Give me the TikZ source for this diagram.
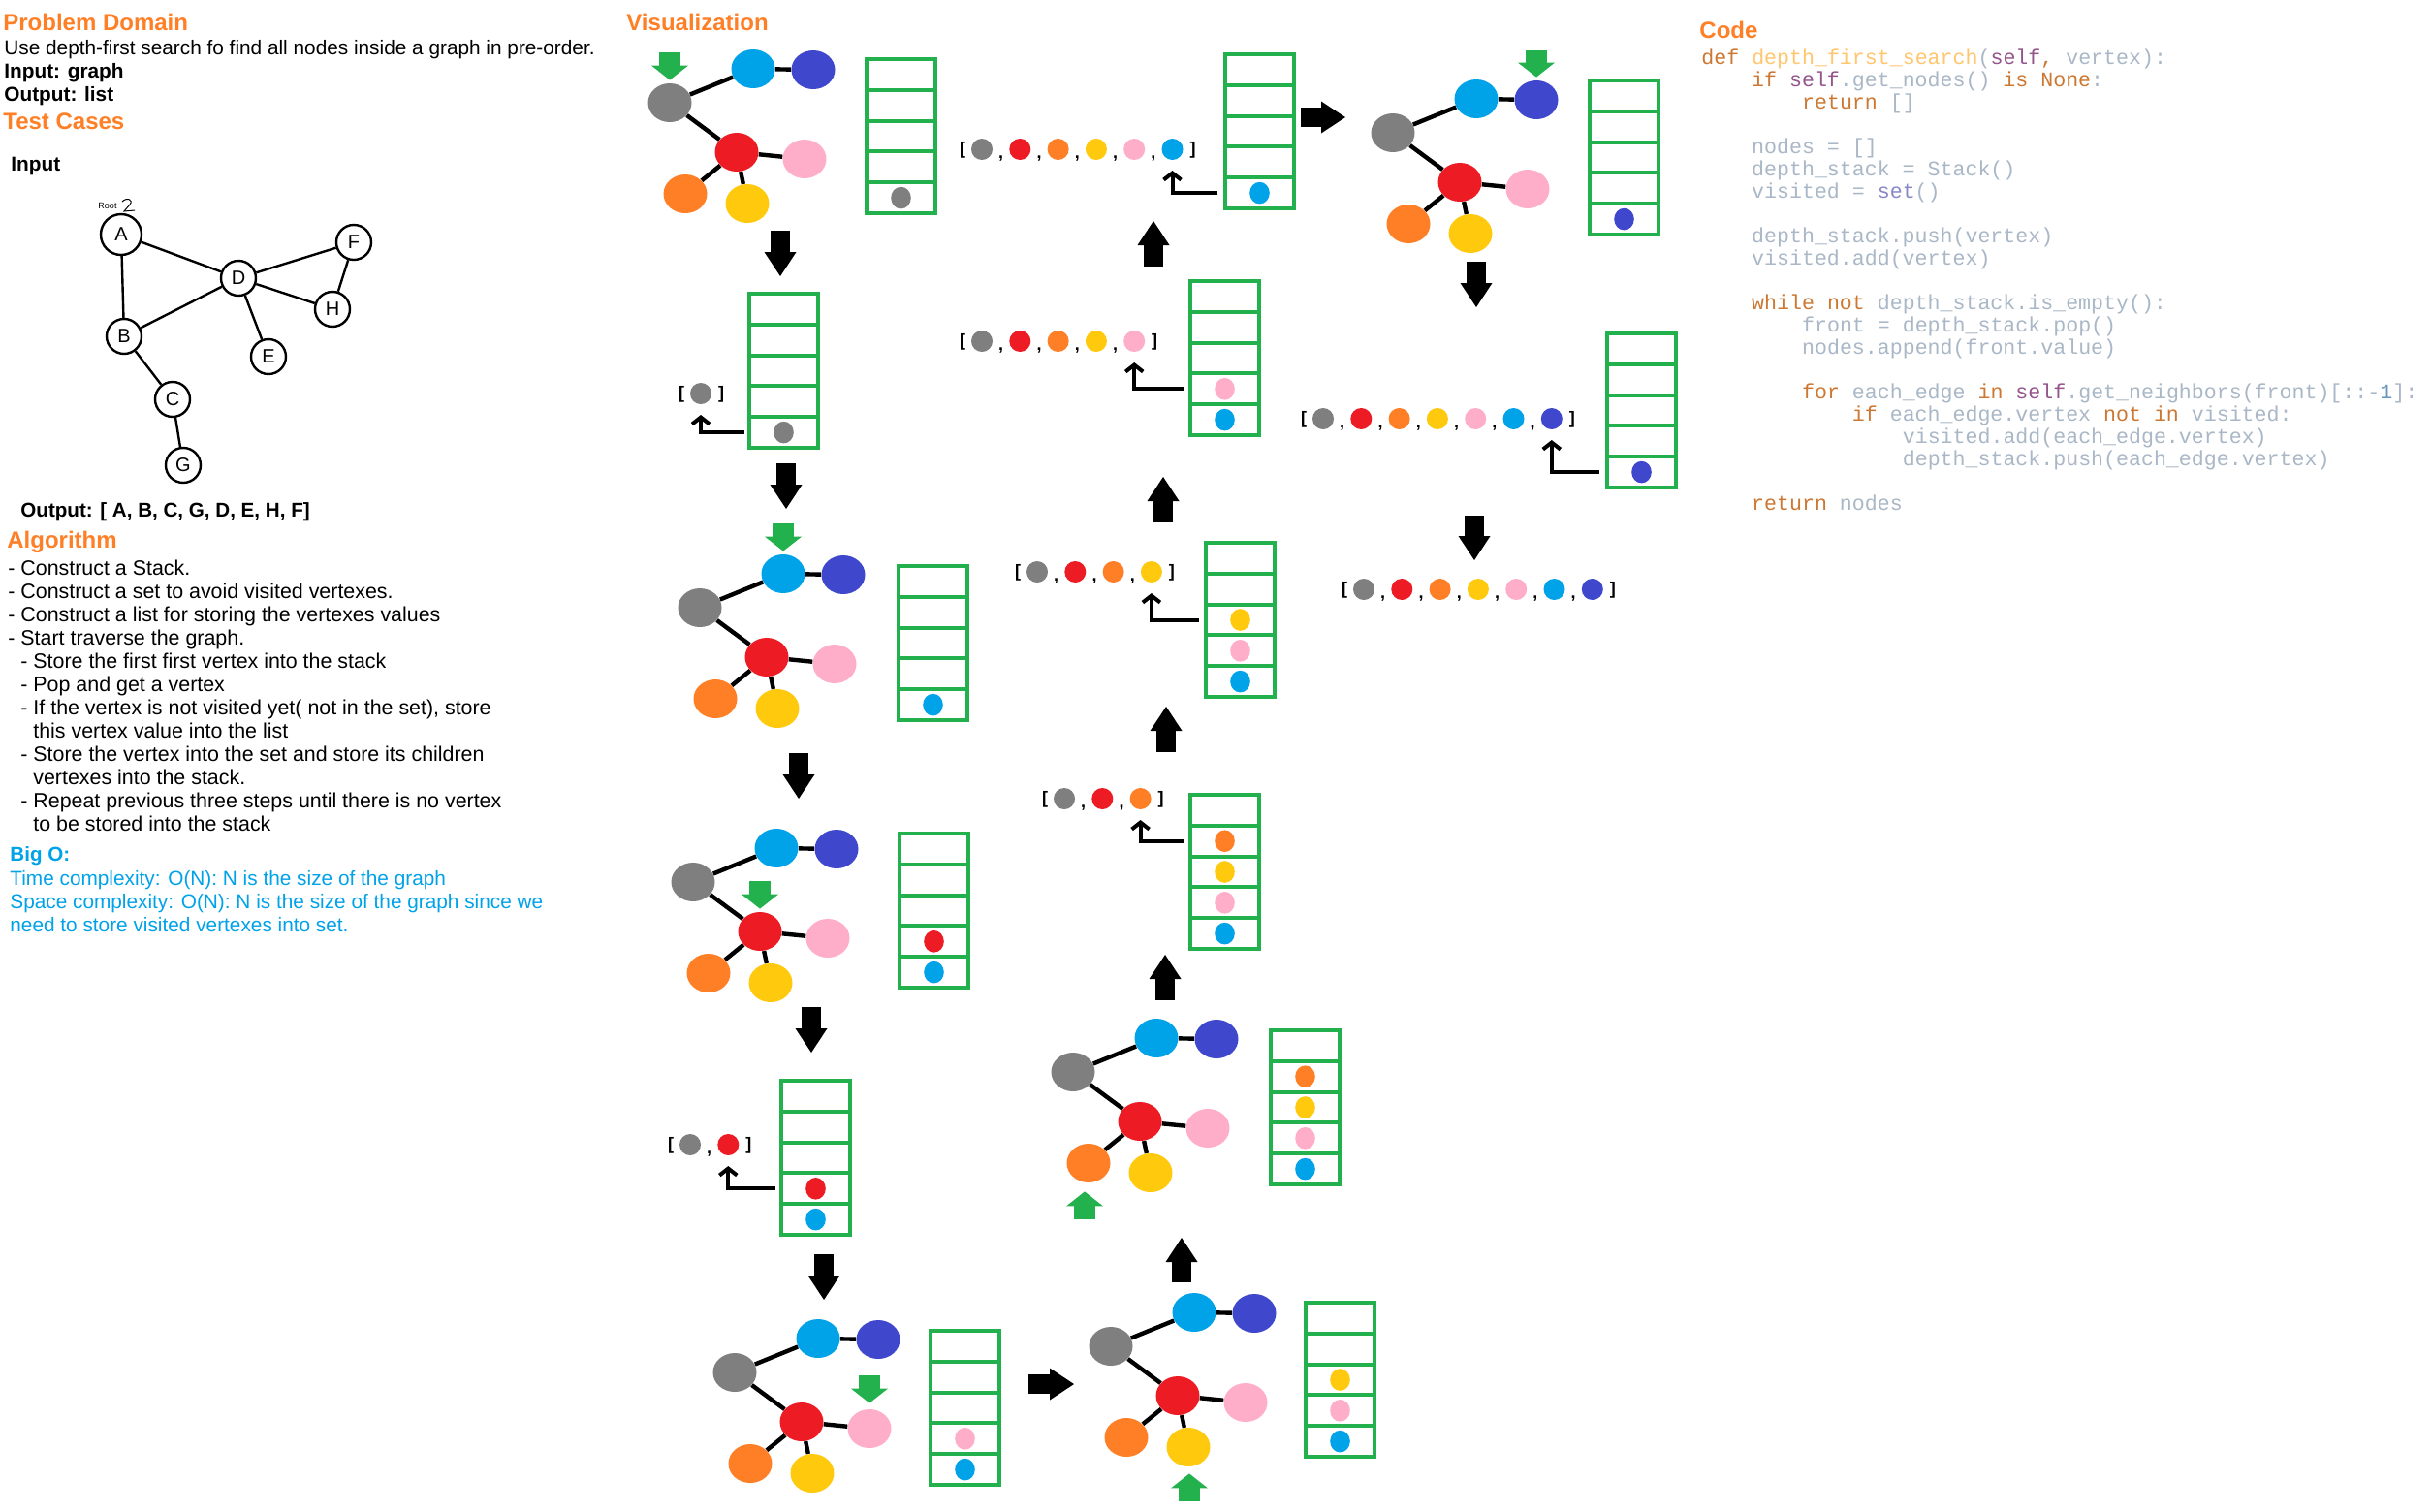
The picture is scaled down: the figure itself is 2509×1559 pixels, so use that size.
\documentclass[tikz,border=0pt]{standalone}
\usepackage{fontspec}
\setmainfont{Liberation Sans}
\newfontfamily\lsans{Liberation Sans}
\newfontfamily\codefont{Liberation Mono}
\usetikzlibrary{shapes.geometric,arrows.meta,calc}
\definecolor{cgray}{HTML}{7F7F7F}
\definecolor{ccyan}{HTML}{00A2E8}
\definecolor{cindigo}{HTML}{3F48CC}
\definecolor{cred}{HTML}{ED1C24}
\definecolor{cpink}{HTML}{FFAEC9}
\definecolor{corange}{HTML}{FF7F27}
\definecolor{cyellow}{HTML}{FFC90E}
\definecolor{cgreen}{HTML}{22B14C}
\definecolor{headc}{HTML}{FF7F27}
\definecolor{bluetxt}{HTML}{00A2E8}
\definecolor{ckw}{HTML}{CC7832}
\definecolor{cfn}{HTML}{FFC66D}
\definecolor{cself}{HTML}{94558D}
\definecolor{cdef}{HTML}{A9B7C6}
\definecolor{cset}{HTML}{8888C6}
\definecolor{cnum}{HTML}{6897BB}
\newcommand\Kw[1]{\textcolor{ckw}{#1}}
\newcommand\Fn[1]{\textcolor{cfn}{#1}}
\newcommand\Slf[1]{\textcolor{cself}{#1}}
\newcommand\Setc[1]{\textcolor{cset}{#1}}
\newcommand\Num[1]{\textcolor{cnum}{#1}}
% graph icon: name, x, y of the gray node
\newcommand\gicon[3]{%
  \node[gn,fill=cgray] (#1g) at (#2,#3) {};
  \node[gn,fill=ccyan] (#1c) at ({#2+86},{#3-35}) {};
  \node[gn,fill=cindigo] (#1i) at ({#2+148},{#3-34}) {};
  \node[gn,fill=cred] (#1r) at ({#2+69},{#3+51}) {};
  \node[gn,fill=cpink] (#1p) at ({#2+139},{#3+58}) {};
  \node[gn,fill=corange] (#1o) at ({#2+16},{#3+94}) {};
  \node[gn,fill=cyellow] (#1y) at ({#2+80},{#3+104}) {};
  \draw[gedge] (#1g)--(#1c) (#1c)--(#1i) (#1g)--(#1r) (#1r)--(#1p) (#1r)--(#1o) (#1r)--(#1y);
}
% stack: name, x, y of outer top-left
\newcommand\stk[3]{%
  \node[stackbox,anchor=north west] (#1) at ({#2+2},{#3+2}) {};
  \foreach \k in {1,2,3,4}{\draw[stackline] ($(#1.south west)!{\k/5}!(#1.north west)$) -- ($(#1.south east)!{\k/5}!(#1.north east)$);}
  \foreach \k in {0,...,4}{\coordinate (#1-\k) at ($(#1.south)!{(\k+0.5)/5}!(#1.north)$);}
}
\newcommand\sdots[2]{%
  \foreach \c [count=\i from 0] in {#2}{\node[sdot,fill=\c] (#1-d\i) at (#1-\i) {};}
}
% list: name, first dot x, y, count, colours
\newcommand\dotlist[5]{%
  \node[brk] (#1-open) at ({#2-20},{#3+1}) {[};
  \foreach \c [count=\i from 0] in {#5}{%
    \node[ldot,fill=\c] (#1-\i) at ({#2+39.3*\i},{#3}) {};
    \ifnum\i>0 \node[cmm] (#1-cm\i) at ({#2+39.3*\i-19.6},{#3+9}) {,};\fi
  }
  \node[brk] (#1-close) at ({#2+39.3*(#4-1)+21},{#3+1}) {]};
}
\begin{document}
\begin{tikzpicture}[x=0.5pt,y=-0.5pt,
  gn/.style={ellipse,minimum width=22.5pt,minimum height=20pt,inner sep=0pt,draw=none},
  gedge/.style={line width=2.2pt,black},
  stackbox/.style={rectangle,draw=cgreen,line width=2pt,minimum width=35.5pt,minimum height=79.5pt,inner sep=0pt,outer sep=0pt},
  stackline/.style={draw=cgreen,line width=2pt},
  sdot/.style={ellipse,minimum width=10.3pt,minimum height=11.3pt,inner sep=0pt},
  ldot/.style={circle,minimum size=11pt,inner sep=0pt},
  brk/.style={font=\bfseries\fontsize{9}{10}\selectfont,inner sep=0pt,anchor=center},
  cmm/.style={font=\bfseries\fontsize{9}{10}\selectfont,inner sep=0pt,anchor=base},
  blk/.style={line width=10pt,draw=black,-{Triangle[length=12.5pt,width=16.5pt,line width=0pt]}},
  grn/.style={line width=11pt,draw=cgreen,-{Triangle[length=7.5pt,width=19pt,line width=0pt]}},
  bent/.style={line width=2pt,black,-{Straight Barb[length=3.5pt,width=9pt]}},
  hd/.style={anchor=base west,inner sep=0pt,text=headc,font=\lsans\bfseries\fontsize{12}{14}\selectfont},
  tx/.style={anchor=base west,inner sep=0pt,font=\lsans\fontsize{10.4}{12}\selectfont},
  txb/.style={anchor=base west,inner sep=0pt,font=\lsans\bfseries\fontsize{10.4}{12}\selectfont},
  al/.style={anchor=base west,inner sep=0pt,font=\lsans\fontsize{10.7}{12}\selectfont},
  bl/.style={anchor=base west,inner sep=0pt,text=bluetxt,font=\lsans\fontsize{10.4}{12}\selectfont},
  code/.style={anchor=base west,inner sep=0pt,text=cdef,font=\codefont\fontsize{10.8}{11.5}\selectfont},
  sk/.style={circle,draw,line width=1.2pt,minimum size=18pt,inner sep=0pt,font=\fontsize{10}{10}\selectfont},
  skedge/.style={line width=1.2pt,black}]
\fill[white] (0,0) rectangle (2509,1559);
\useasboundingbox (0,0) rectangle (2509,1559);

% ---------------- left panel ----------------
\node[hd] (pd) at (3,31) {Problem Domain};
\node[tx] (pd1) at (4,56) {Use depth-first search fo find all nodes inside a graph in pre-order.};
\node[txb] (pd2) at (4,80) {Input: graph};
\node[txb] (pd3) at (4,104) {Output: list};
\node[hd] (tc) at (3,133) {Test Cases};
\node[txb] (tcin) at (11,176) {Input};

\node[sk,minimum size=21pt] (A) at (125,242) {A};
\node[sk] (B) at (128,347) {B};
\node[sk] (D) at (246,287) {D};
\node[sk] (F) at (365,250) {F};
\node[sk] (H) at (343,319) {H};
\node[sk] (E) at (277,368) {E};
\node[sk] (C) at (178,412) {C};
\node[sk] (G) at (189,480) {G};
\draw[skedge] (A)--(B) (A)--(D) (B)--(D) (D)--(F) (D)--(H) (F)--(H) (D)--(E) (B)--(C) (C)--(G);
\node[inner sep=0pt,font=\fontsize{4.5}{5}\selectfont] (root) at (111,212) {Root};
\draw[line width=0.5pt] (126,208) .. controls (131,203) and (138,206) .. (134,211) -- (128,218) -- (139,217);
\node[anchor=base west,inner sep=0pt,font=\bfseries\fontsize{10.3}{12}\selectfont] (tcout) at (21,533) {Output: [ A, B, C, G, D, E, H, F]};

\node[hd] (alg) at (7,565) {Algorithm};
\node[al] (al1) at (8,593) {- Construct a Stack.};
\node[al] (al2) at (8,617) {- Construct a set to avoid visited vertexes.};
\node[al] (al3) at (8,641) {- Construct a list for storing the vertexes values};
\node[al] (al4) at (8,665) {- Start traverse the graph.};
\node[al] (al5) at (21,689) {- Store the first first vertex into the stack};
\node[al] (al6) at (21,713) {- Pop and get a vertex};
\node[al] (al7) at (21,737) {- If the vertex is not visited yet( not in the set), store};
\node[al] (al8) at (34,761) {this vertex value into the list};
\node[al] (al9) at (21,785) {- Store the vertex into the set and store its children};
\node[al] (al10) at (34,809) {vertexes into the stack.};
\node[al] (al11) at (21,833) {- Repeat previous three steps until there is no vertex};
\node[al] (al12) at (34,857) {to be stored into the stack};

\node[anchor=base west,inner sep=0pt,text=bluetxt,font=\lsans\bfseries\fontsize{10.3}{12}\selectfont] (bigo) at (10,888) {Big O:};
\node[bl] (bo1) at (10,913) {Time complexity: O(N): N is the size of the graph};
\node[bl] (bo2) at (10,937) {Space complexity: O(N): N is the size of the graph since we};
\node[bl] (bo3) at (10,961) {need to store visited vertexes into set.};

% ---------------- code panel ----------------
\node[hd] (codehd) at (1753,39) {Code};
\node[code] (code0) at (1755,66) {\Kw{def} \Fn{depth\_first\_search}(\Slf{self}\Kw{,} vertex):};
\node[code] (code1) at (1806.8,89) {\Kw{if} \Slf{self}.get\_nodes() \Kw{is} \Kw{None}:};
\node[code] (code2) at (1858.7,112) {\Kw{return} []};
\node[code] (code4) at (1806.8,158) {nodes = []};
\node[code] (code5) at (1806.8,181) {depth\_stack = Stack()};
\node[code] (code6) at (1806.8,204) {visited = \Setc{set}()};
\node[code] (code8) at (1806.8,250) {depth\_stack.push(vertex)};
\node[code] (code9) at (1806.8,273) {visited.add(vertex)};
\node[code] (code11) at (1806.8,319) {\Kw{while} \Kw{not} depth\_stack.is\_empty():};
\node[code] (code12) at (1858.7,342) {front = depth\_stack.pop()};
\node[code] (code13) at (1858.7,365) {nodes.append(front.value)};
\node[code] (code15) at (1858.7,411) {\Kw{for} each\_edge \Kw{in} \Slf{self}.get\_neighbors(front)[::-\Num{1}]:};
\node[code] (code16) at (1910.5,434) {\Kw{if} each\_edge.vertex \Kw{not} \Kw{in} visited:};
\node[code] (code17) at (1962.4,457) {visited.add(each\_edge.vertex)};
\node[code] (code18) at (1962.4,480) {depth\_stack.push(each\_edge.vertex)};
\node[code] (code20) at (1806.8,526) {\Kw{return} nodes};

% ---------------- visualization ----------------
\node[hd] (vis) at (646,31) {Visualization};

\gicon{G1}{691}{106}
\gicon{G2}{722}{627}
\gicon{G3}{715}{910}
\gicon{G4}{758}{1416}
\gicon{G5}{1146}{1389}
\gicon{G6}{1107}{1106}
\gicon{G7}{1437}{137}

\stk{S1}{892}{59}    \sdots{S1}{cgray}
\stk{S2}{771}{301}   \sdots{S2}{cgray}
\stk{S3}{925}{582}   \sdots{S3}{ccyan}
\stk{S4}{926}{858}   \sdots{S4}{ccyan,cred}
\stk{S5}{804}{1113}  \sdots{S5}{ccyan,cred}
\stk{S6}{958}{1371}  \sdots{S6}{ccyan,cpink}
\stk{S7}{1345}{1342} \sdots{S7}{ccyan,cpink,cyellow}
\stk{S8}{1309}{1061} \sdots{S8}{ccyan,cpink,cyellow,corange}
\stk{S9}{1226}{818}  \sdots{S9}{ccyan,cpink,cyellow,corange}
\stk{S10}{1242}{558} \sdots{S10}{ccyan,cpink,cyellow}
\stk{S11}{1226}{288} \sdots{S11}{ccyan,cpink}
\stk{S12}{1262}{54}  \sdots{S12}{ccyan}
\stk{S13}{1638}{81}  \sdots{S13}{cindigo}
\stk{S14}{1656}{342} \sdots{S14}{cindigo}

\dotlist{L2}{723}{406}{1}{cgray}
\dotlist{L5}{712}{1181}{2}{cgray,cred}
\dotlist{L9}{1098}{824}{3}{cgray,cred,corange}
\dotlist{L10}{1070}{590}{4}{cgray,cred,corange,cyellow}
\dotlist{L11}{1013}{352}{5}{cgray,cred,corange,cyellow,cpink}
\dotlist{L12}{1013}{154}{6}{cgray,cred,corange,cyellow,cpink,ccyan}
\dotlist{L14}{1365}{432}{7}{cgray,cred,corange,cyellow,cpink,ccyan,cindigo}
\dotlist{L15}{1407}{608}{7}{cgray,cred,corange,cyellow,cpink,ccyan,cindigo}

% bent arrows from stack to list
\draw[bent] ($(S2.west |- S2-0)+(-5,0)$) -| ($(L2-0)+(0,22)$);
\draw[bent] ($(S5.west |- S5-1)+(-6,0)$) -| ($(L5-1)+(0,22)$);
\draw[bent] ($(S9.west |- S9-3)+(-7,0)$) -| ($(L9-2)+(0,22)$);
\draw[bent] ($(S10.west |- S10-2)+(-7,0)$) -| ($(L10-3)+(0,22)$);
\draw[bent] ($(S11.west |- S11-1)+(-7,0)$) -| ($(L11-4)+(0,22)$);
\draw[bent] ($(S12.west |- S12-0)+(-8,0)$) -| ($(L12-5)+(0,22)$);
\draw[bent] ($(S14.west |- S14-0)+(-8,0)$) -| ($(L14-6)+(0,22)$);

% green pointer arrows
\draw[grn] ($(G1g.north)+(0,-32)$) -- ($(G1g.north)+(0,-3)$);
\draw[grn] ($(G2c.north)+(0,-32)$) -- ($(G2c.north)+(0,-3)$);
\draw[grn] ($(G3r.north)+(0,-32)$) -- ($(G3r.north)+(0,-3)$);
\draw[grn] ($(G4p.north)+(0,-35)$) -- ($(G4p.north)+(0,-6)$);
\draw[grn] ($(G5y.south)+(1,36)$) -- ($(G5y.south)+(1,7)$);
\draw[grn] ($(G6o.south)+(-4,38)$) -- ($(G6o.south)+(-4,9)$);
\draw[grn] ($(G7i.north)+(0,-31)$) -- ($(G7i.north)+(0,-3)$);

% black step arrows
\coordinate (a1s) at (805,238);  \coordinate (a1e) at (805,285);
\coordinate (a2s) at (811,478);  \coordinate (a2e) at (811,525);
\coordinate (a3s) at (824,777);  \coordinate (a3e) at (824,824);
\coordinate (a4s) at (837,1039); \coordinate (a4e) at (837,1086);
\coordinate (a5s) at (850,1294); \coordinate (a5e) at (850,1341);
\coordinate (a6s) at (1061,1428); \coordinate (a6e) at (1108,1428);
\coordinate (a7s) at (1219,1323); \coordinate (a7e) at (1219,1277);
\coordinate (a8s) at (1202,1032); \coordinate (a8e) at (1202,985);
\coordinate (a9s) at (1203,776); \coordinate (a9e) at (1203,729);
\coordinate (a10s) at (1200,539); \coordinate (a10e) at (1200,492);
\coordinate (a11s) at (1190,275); \coordinate (a11e) at (1190,228);
\coordinate (a12s) at (1342,121); \coordinate (a12e) at (1388,121);
\coordinate (a13s) at (1523,270); \coordinate (a13e) at (1523,317);
\coordinate (a14s) at (1521,532); \coordinate (a14e) at (1521,578);
\foreach \n in {1,...,14}{\draw[blk] (a\n s) -- (a\n e);}
\end{tikzpicture}
\end{document}
